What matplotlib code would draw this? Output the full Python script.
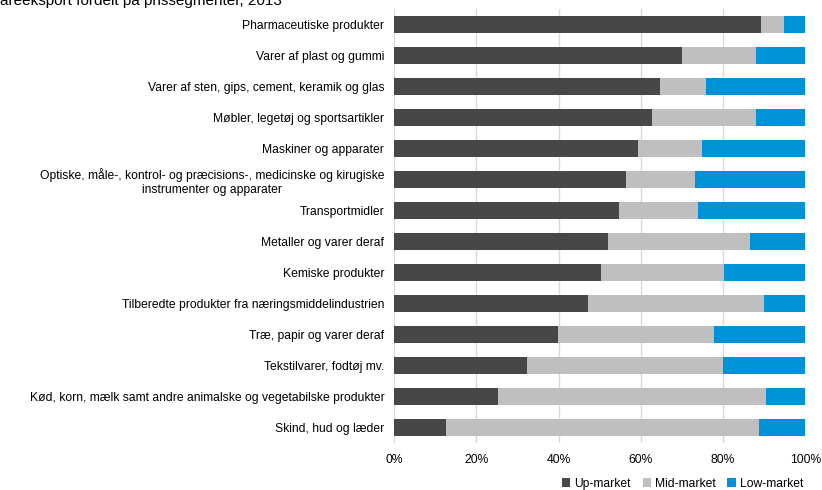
import matplotlib.pyplot as plt
import numpy as np

plt.rcParams['font.family'] = ['Liberation Sans', 'DejaVu Sans']

categories = [
    'Pharmaceutiske produkter',
    'Varer af plast og gummi',
    'Varer af sten, gips, cement, keramik og glas',
    'Møbler, legetøj og sportsartikler',
    'Maskiner og apparater',
    'Optiske, måle-, kontrol- og præcisions-, medicinske og kirugiske\ninstrumenter og apparater',
    'Transportmidler',
    'Metaller og varer deraf',
    'Kemiske produkter',
    'Tilberedte produkter fra næringsmiddelindustrien',
    'Træ, papir og varer deraf',
    'Tekstilvarer, fodtøj mv.',
    'Kød, korn, mælk samt andre animalske og vegetabilske produkter',
    'Skind, hud og læder',
]

# shares in percent
up_market = [89.2, 70.0, 64.7, 62.7, 59.3, 56.4, 54.7, 52.0, 50.4, 47.2, 39.9, 32.3, 25.3, 12.7]
mid_market = [5.6, 17.9, 11.1, 25.3, 15.6, 16.8, 19.1, 34.6, 29.8, 42.8, 37.9, 47.7, 65.1, 76.0]
low_market = [5.2, 12.1, 24.2, 12.0, 25.1, 26.8, 26.2, 13.4, 19.8, 10.0, 22.2, 20.0, 9.6, 11.3]

up = np.array(up_market)
mid = np.array(mid_market)
low = np.array(low_market)
y = np.arange(len(categories))

fig = plt.figure(figsize=(8.22, 4.9), dpi=100)
ax = fig.add_axes([0.4793, 0.0959, 0.5004, 0.8857])

h = 0.55
ax.barh(y, up, height=h, color='#474747', label='Up-market', zorder=3)
ax.barh(y, mid, left=up, height=h, color='#BFBFBF', label='Mid-market', zorder=3)
ax.barh(y, low, left=up + mid, height=h, color='#0092D6', label='Low-market', zorder=3)

ax.set_xlim(0, 100)
ax.set_ylim(len(categories) - 0.5, -0.5)
ax.set_xticks(np.arange(0, 101, 20))
ax.set_xticklabels(['%d%%' % v for v in range(0, 101, 20)])
ax.set_yticks(y)
ax.set_yticklabels(categories, multialignment='center')
ax.tick_params(axis='both', length=0, labelsize=8.7, colors='#000000')
ax.tick_params(axis='y', pad=7)
ax.tick_params(axis='x', pad=8)
ax.grid(axis='x', color='#D9D9D9', linewidth=1, zorder=0)
for s in ax.spines.values():
    s.set_visible(False)

fig.text(-9 / 822, 1 - 5 / 490, 'Vareeksport fordelt på prissegmenter, 2013',
         fontsize=11, va='baseline', ha='left')

fig.legend(loc='lower right', bbox_to_anchor=(0.99, -0.022), ncol=3, frameon=False,
           fontsize=8.7, handlelength=0.7, handleheight=0.7, handletextpad=0.3,
           columnspacing=1.0)

fig.savefig('out.png', dpi=100)
